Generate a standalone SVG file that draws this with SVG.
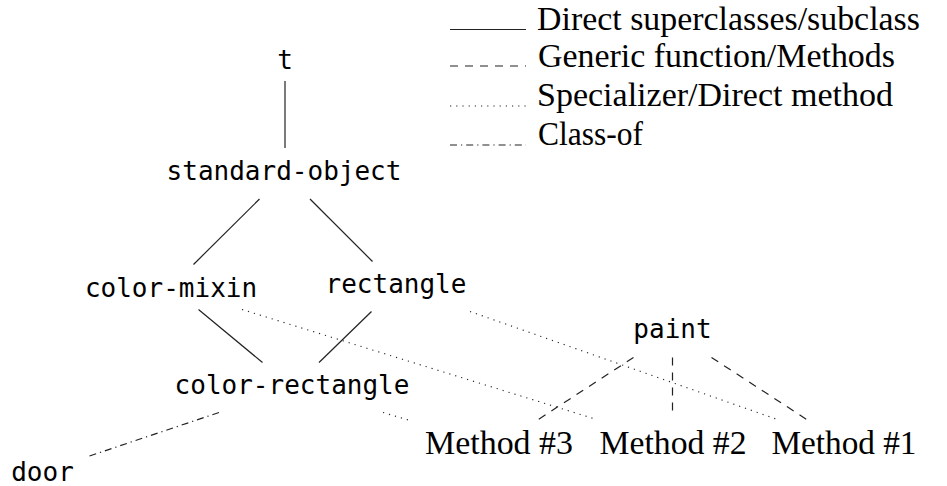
<svg xmlns="http://www.w3.org/2000/svg" width="947" height="486" viewBox="0 0 947 486">
<style>
.mono{font-family:"DejaVu Sans Mono","Liberation Mono",monospace;font-size:26px;fill:#000;text-anchor:middle}
.serif{font-family:"Liberation Serif","Times New Roman",serif;font-size:33px;fill:#000}
.mid{text-anchor:middle}
.solid{stroke:#222;stroke-width:1.2;fill:none}
.dashed{stroke:#222;stroke-width:1.2;fill:none;stroke-dasharray:8 7}
.dotted{stroke:#222;stroke-width:1.1;fill:none;stroke-dasharray:1.2 5}
.dashdot{stroke:#222;stroke-width:1.2;fill:none;stroke-dasharray:7 4 1.2 4}
</style>
<rect width="947" height="486" fill="#fff"/>
<g id="legend">
<line class="solid" x1="450" y1="29.5" x2="526" y2="29.5"/>
<line class="dashed" x1="450" y1="66" x2="526" y2="66"/>
<line class="dotted" x1="450" y1="106" x2="526" y2="106"/>
<line class="dashdot" x1="450" y1="145" x2="526" y2="145"/>
<text class="serif" x="537" y="30" textLength="383" lengthAdjust="spacingAndGlyphs">Direct superclasses/subclass</text>
<text class="serif" x="538" y="67" textLength="357" lengthAdjust="spacingAndGlyphs">Generic function/Methods</text>
<text class="serif" x="537" y="106" textLength="356" lengthAdjust="spacingAndGlyphs">Specializer/Direct method</text>
<text class="serif" x="538" y="144.5" textLength="105" lengthAdjust="spacingAndGlyphs">Class-of</text>
</g>
<g id="connectors">
<line class="solid" x1="285" y1="81" x2="285" y2="148"/>
<line class="solid" x1="259.5" y1="199" x2="193.5" y2="264.5"/>
<line class="solid" x1="310" y1="199" x2="372.5" y2="261.5"/>
<line class="solid" x1="198.5" y1="309.5" x2="262.5" y2="362.5"/>
<line class="solid" x1="371.5" y1="311.5" x2="319" y2="362.5"/>
<line class="dashdot" x1="219" y1="412.5" x2="88" y2="456.5"/>
<line class="dotted" x1="383" y1="412.5" x2="410" y2="420.5"/>
<line class="dotted" x1="242" y1="309.5" x2="595" y2="419"/>
<line class="dotted" x1="470" y1="311.5" x2="776" y2="419"/>
<line class="dashed" x1="633.5" y1="357.5" x2="537.5" y2="420"/>
<line class="dashed" x1="672.5" y1="357.5" x2="672.5" y2="413"/>
<line class="dashed" x1="711.5" y1="357.5" x2="807.5" y2="420"/>
</g>
<g id="t"><text class="mono" x="285" y="69">t</text></g>
<g id="standard-object"><text class="mono" x="284" y="180">standard-object</text></g>
<g id="color-mixin"><text class="mono" x="171" y="297">color-mixin</text></g>
<g id="rectangle"><text class="mono" x="396" y="293">rectangle</text></g>
<g id="color-rectangle"><text class="mono" x="292" y="394">color-rectangle</text></g>
<g id="door"><text class="mono" x="42.5" y="481">door</text></g>
<g id="paint"><text class="mono" x="672.5" y="338">paint</text></g>
<g id="method3"><text class="serif mid" x="499" y="454" textLength="148" lengthAdjust="spacingAndGlyphs">Method #3</text></g>
<g id="method2"><text class="serif mid" x="673" y="454" textLength="147" lengthAdjust="spacingAndGlyphs">Method #2</text></g>
<g id="method1"><text class="serif mid" x="844" y="454" textLength="145" lengthAdjust="spacingAndGlyphs">Method #1</text></g>
</svg>
